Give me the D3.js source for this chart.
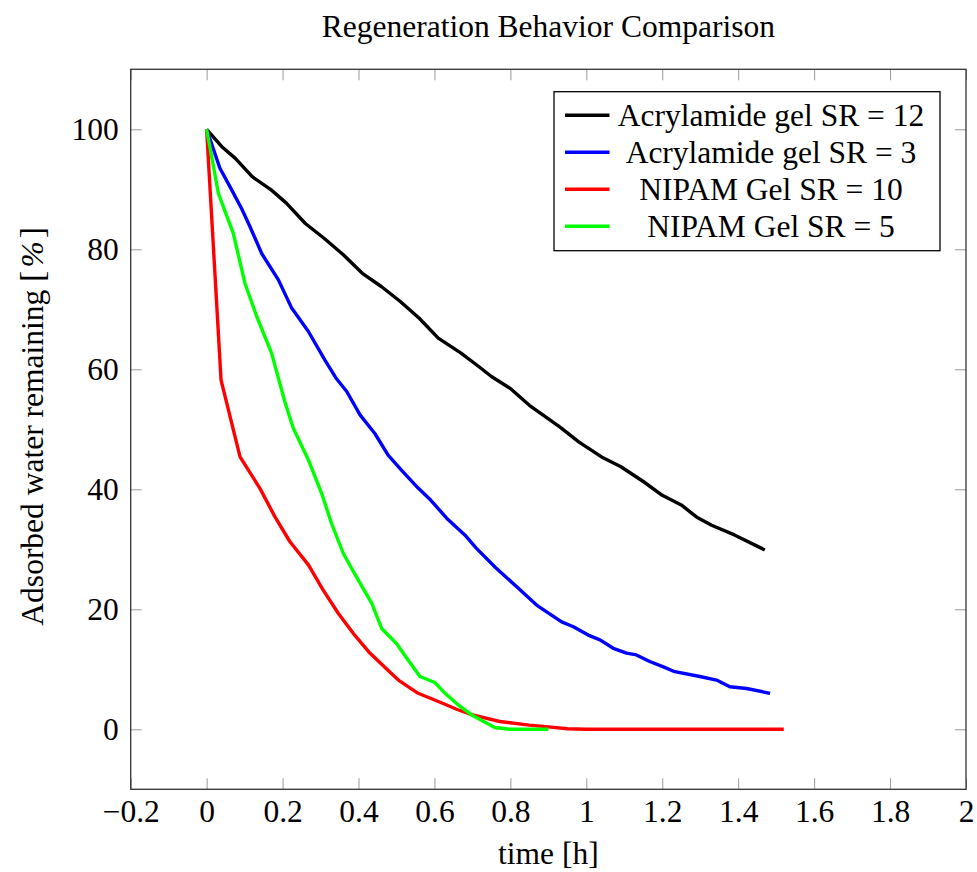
<!DOCTYPE html>
<html>
<head>
  <style>
  body {
    margin: 0;
    background: #fff;
  }
  svg text {
    font-family: "Liberation Serif", "Times New Roman", Tinos, serif;
    fill: #000;
  }
  .tick line {
    stroke: #999;
    stroke-width: 1px;
  }
  .frame {
    fill: none;
    stroke: #333;
    stroke-width: 1.3px;
  }
  .series {
    fill: none;
    stroke-width: 3.4px;
    stroke-linejoin: round;
  }
  </style>
</head>
<body>
  <div id="chart"></div>
  <script src="https://d3js.org/d3.v7.min.js"></script>
  <script>
  // time [h] and water remaining [%] for each gel
  var acryl12_t = [0, 0.04, 0.075, 0.12, 0.17, 0.21, 0.26, 0.31, 0.36, 0.41, 0.46, 0.51, 0.56, 0.61, 0.67, 0.72, 0.75, 0.80, 0.85, 0.93, 0.98, 1.04, 1.09, 1.15, 1.20, 1.25, 1.29, 1.33, 1.39, 1.47];
  var acryl12_v = [100, 97.1, 95.2, 92.1, 89.9, 87.7, 84.3, 81.8, 79.1, 76.0, 73.8, 71.3, 68.5, 65.2, 62.7, 60.3, 58.8, 56.8, 54.0, 50.4, 47.9, 45.4, 43.8, 41.3, 39.0, 37.4, 35.4, 34.0, 32.4, 29.9];

  var acryl3_t = [0, 0.035, 0.066, 0.092, 0.114, 0.145, 0.189, 0.224, 0.268, 0.312, 0.34, 0.369, 0.404, 0.443, 0.478, 0.513, 0.557, 0.59, 0.635, 0.68, 0.71, 0.76, 0.816, 0.869, 0.935, 0.966, 1.005, 1.036, 1.071, 1.106, 1.132, 1.167, 1.203, 1.233, 1.299, 1.343, 1.378, 1.422, 1.484];
  var acryl3_v = [100, 93.5, 89.9, 86.8, 83.8, 79.3, 74.9, 70.2, 66.3, 61.5, 58.6, 56.3, 52.4, 49.3, 45.7, 43.2, 40.2, 38.2, 35.0, 32.4, 30.2, 27.0, 23.8, 20.7, 17.9, 17.1, 15.7, 14.9, 13.5, 12.7, 12.4, 11.3, 10.4, 9.6, 8.8, 8.2, 7.1, 6.8, 6.0];

  var nipam10_t = [0, 0.038, 0.088, 0.14, 0.18, 0.219, 0.268, 0.307, 0.347, 0.386, 0.43, 0.47, 0.505, 0.557, 0.623, 0.66, 0.70, 0.772, 0.85, 0.9, 0.95, 1.0, 1.1, 1.2, 1.3, 1.4, 1.52];
  var nipam10_v = [100, 58.2, 45.4, 40.2, 35.4, 31.3, 27.4, 23.2, 19.3, 16.0, 12.7, 10.3, 8.2, 6.0, 4.3, 3.3, 2.4, 1.3, 0.7, 0.4, 0.1, 0, 0, 0, 0, 0, 0];

  var nipam5_t = [0, 0.031, 0.070, 0.101, 0.132, 0.171, 0.206, 0.228, 0.268, 0.303, 0.329, 0.36, 0.399, 0.435, 0.461, 0.50, 0.531, 0.562, 0.601, 0.628, 0.66, 0.698, 0.759, 0.8, 0.9];
  var nipam5_v = [100, 89.3, 82.7, 74.3, 68.8, 62.7, 54.6, 50.2, 44.9, 39.3, 34.3, 29.3, 24.9, 21.0, 16.8, 14.3, 11.5, 8.8, 7.8, 6.0, 4.2, 2.4, 0.3, 0, 0];

  var labels = ["Acrylamide gel SR = 12", "Acrylamide gel SR = 3", "NIPAM Gel SR = 10", "NIPAM Gel SR = 5"];
  var colors = ["#000000", "#0000ff", "#ff0000", "#00ff00"];

  var xTicks = [-0.2, 0, 0.2, 0.4, 0.6, 0.8, 1, 1.2, 1.4, 1.6, 1.8, 2];
  var yTicks = [0, 20, 40, 60, 80, 100];

  var series = [
    {t: acryl12_t, v: acryl12_v},
    {t: acryl3_t, v: acryl3_v},
    {t: nipam10_t, v: nipam10_v},
    {t: nipam5_t, v: nipam5_v}
  ];

  var W = 977, H = 872;
  var margin = {top: 69.3, right: 11, bottom: 82.7, left: 130.7};
  var width = W - margin.left - margin.right, height = H - margin.top - margin.bottom;

  var svg = d3.select("#chart").append("svg")
      .attr("width", W)
      .attr("height", H);

  var g = svg.append("g")
      .attr("transform", "translate(" + margin.left + "," + margin.top + ")");

  var x = d3.scaleLinear().domain([-0.2, 2]).range([0, width]);
  var y = d3.scaleLinear().domain([-10, 110]).range([height, 0]);

  function fmt(d) {
    return d < 0 ? "\u2212" + Math.abs(d) : String(d);
  }

  var tickLen = 11;
  var fontSize = 31.5;

  // ticks point inwards on all four sides
  g.append("g").attr("transform", "translate(0," + height + ")")
      .call(d3.axisBottom(x).tickValues(xTicks).tickFormat(fmt).tickSize(-tickLen).tickPadding(tickLen + 10));
  g.append("g")
      .call(d3.axisTop(x).tickValues(xTicks).tickFormat("").tickSize(-tickLen));
  g.append("g")
      .call(d3.axisLeft(y).tickValues(yTicks).tickFormat(fmt).tickSize(-tickLen).tickPadding(tickLen + 1));
  g.append("g").attr("transform", "translate(" + width + ",0)")
      .call(d3.axisRight(y).tickValues(yTicks).tickFormat("").tickSize(-tickLen));

  g.selectAll(".domain").remove();
  g.selectAll(".tick text")
      .style("font-size", fontSize + "px")
      .attr("fill", "#000");
  // axisBottom places the labels at y = padding, so pull them up by the tick length
  g.selectAll(".tick text").filter(function(){ return this.getAttribute("dy") === "0.71em"; })
      .attr("y", 10);

  var line = d3.line()
      .x(function(d){ return x(d[0]); })
      .y(function(d){ return y(d[1]); });

  series.forEach(function(s, i) {
    var pts = s.t.map(function(t, j){ return [t, s.v[j]]; });
    g.append("path")
        .attr("class", "series")
        .attr("d", line(pts))
        .attr("stroke", colors[i]);
  });

  g.append("rect")
      .attr("class", "frame")
      .attr("width", width)
      .attr("height", height);

  // legend
  var lg = svg.append("g").attr("transform", "translate(554,91.7)");
  lg.append("rect")
      .attr("width", 386)
      .attr("height", 159)
      .attr("fill", "#fff")
      .attr("stroke", "#000")
      .attr("stroke-width", 1.3);

  labels.forEach(function(l, i) {
    var cy = 23.5 + i * 37;
    lg.append("line")
        .attr("x1", 11).attr("x2", 55.5)
        .attr("y1", cy).attr("y2", cy)
        .attr("stroke", colors[i])
        .attr("stroke-width", 3.4);
    lg.append("text")
        .attr("x", 217)
        .attr("y", cy)
        .attr("dy", "0.33em")
        .attr("text-anchor", "middle")
        .style("font-size", fontSize + "px")
        .text(l);
  });

  // title and axis labels
  svg.append("text")
      .attr("x", margin.left + width / 2)
      .attr("y", 36.5)
      .attr("text-anchor", "middle")
      .style("font-size", fontSize + "px")
      .text("Regeneration Behavior Comparison");

  svg.append("text")
      .attr("x", margin.left + width / 2)
      .attr("y", 864)
      .attr("text-anchor", "middle")
      .style("font-size", fontSize + "px")
      .text("time [h]");

  var yLab = svg.append("text")
      .attr("transform", "translate(42.5," + (margin.top + height / 2 - 3) + ") rotate(-90)")
      .attr("text-anchor", "middle")
      .style("font-size", fontSize + "px");
  yLab.append("tspan").text("Adsorbed water remaining ");
  yLab.append("tspan").text("[").style("font-size", "34px");
  yLab.append("tspan").text("%").style("font-style", "italic").attr("dx", 3);
  yLab.append("tspan").text("]").style("font-size", "34px").attr("dx", 3);
  </script>
</body>
</html>
